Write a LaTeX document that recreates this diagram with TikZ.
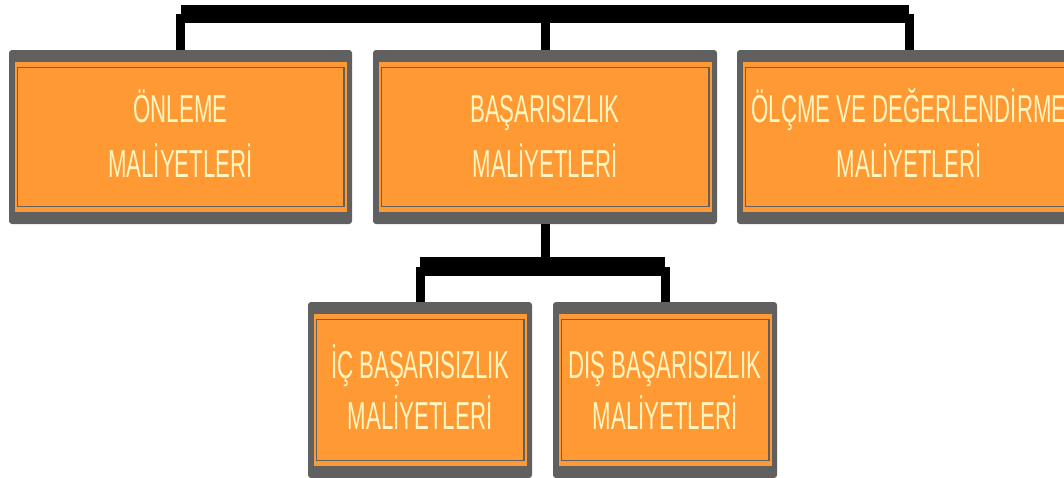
\documentclass[tikz,border=0pt]{standalone}
\usepackage{fontspec}
\newfontfamily\narrowfont[FakeStretch=0.57]{Liberation Sans}
\definecolor{boxgray}{HTML}{606060}
\definecolor{boxorange}{HTML}{FF9933}
\definecolor{labelyellow}{HTML}{FFF5C0}
\tikzset{
  outerbox/.style={fill=boxgray, rounded corners=3pt, inner sep=0pt, outer sep=0pt},
  innerline/.style={draw=boxgray, line width=1.6pt},
  labeltext/.style={text=labelyellow, font=\narrowfont\fontsize{39}{39}\selectfont, anchor=base, inner sep=0pt},
  wire/.style={draw=black, line width=9pt, line join=miter},
  wirebar/.style={fill=black}
}
% name, center x, center y, width, height, line1, line2, up-shift of line1, down-shift of line2
\newcommand{\costbox}[9]{%
  \node[outerbox, minimum width=#4pt, minimum height=#5pt] (#1) at (#2,#3) {};
  \fill[boxorange] ([xshift=6pt,yshift=-12pt]#1.north west) rectangle ([xshift=-5pt,yshift=12pt]#1.south east);
  \draw[innerline] ([xshift=8.5pt,yshift=-17.5pt]#1.north west) rectangle ([xshift=-8pt,yshift=17.5pt]#1.south east);
  \node[labeltext, yshift=#8pt] (#1-a) at (#1.center) {#6};
  \node[labeltext, yshift=-#9pt] (#1-b) at (#1.center) {#7};
}
\begin{document}
\begin{tikzpicture}[x=1pt,y=-1pt]
\useasboundingbox (0,0) rectangle (1064,477);
\costbox{b1}{180.5}{137}{343}{174}{ÖNLEME}{MALİYETLERİ}{14.3}{40}
\costbox{b2}{545}{137}{344}{174}{BAŞARISIZLIK}{MALİYETLERİ}{14.3}{40}
\costbox{b3}{909}{137}{344}{174}{ÖLÇME VE DEĞERLENDİRME}{MALİYETLERİ}{14.3}{40}
\costbox{b4}{420}{390}{224}{176}{İÇ BAŞARISIZLIK}{MALİYETLERİ}{12}{39}
\costbox{b5}{665}{390}{224}{176}{DIŞ BAŞARISIZLIK}{MALİYETLERİ}{12}{39}
% top connectors
\coordinate (bar) at (545,18.5);
\coordinate (bartop) at (545,4.5);
\draw[wire] (b1.north) |- (b3.north |- bar) -- (b3.north);
\draw[wire] (b2.north) -- (b2.north |- bar);
\fill[wirebar] (b1.north |- bartop) rectangle ([yshift=-1pt]b3.north |- bar);
% lower connectors
\coordinate (bar2) at (545,271.5);
\coordinate (bar2top) at (545,257);
\draw[wire] (b2.south) -- (b2.south |- bar2);
\draw[wire] (b4.north) |- (b5.north |- bar2) -- (b5.north);
\fill[wirebar] (b4.north |- bar2top) rectangle ([yshift=-1pt]b5.north |- bar2);
\end{tikzpicture}
\end{document}
